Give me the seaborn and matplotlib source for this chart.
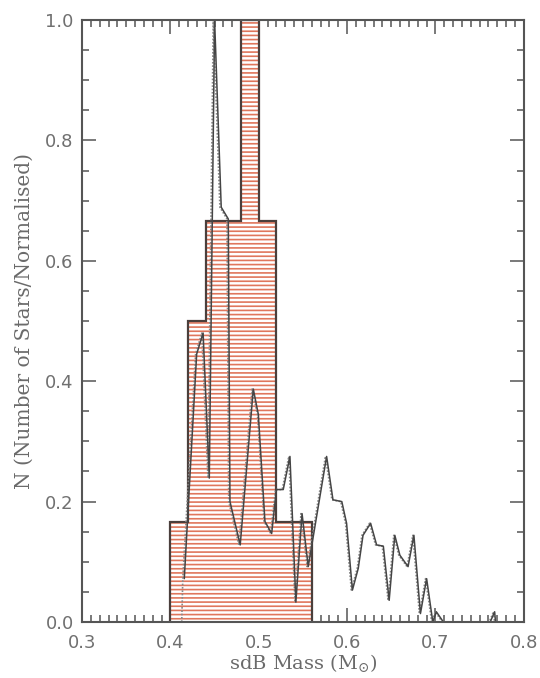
import seaborn as sns
import matplotlib.pyplot as plt
import numpy as np
from matplotlib.ticker import MultipleLocator

# normalised histogram of sdB masses (bin edges, relative counts)
bin_edges = [0.40, 0.42, 0.44, 0.46, 0.48, 0.50, 0.52, 0.54, 0.56]
bin_heights = [1/6, 0.5, 2/3, 2/3, 1.0, 2/3, 1/6, 1/6]

# solid curve (mass distribution, normalised)
curve_x = [0.4157, 0.4297, 0.437, 0.444, 0.450, 0.4575, 0.4655, 0.4674, 0.479,
           0.4938, 0.4995, 0.507, 0.5146, 0.520, 0.5277, 0.5353, 0.542, 0.549,
           0.556, 0.5768, 0.584, 0.594, 0.5994, 0.606, 0.6126, 0.618, 0.6266,
           0.6334, 0.641, 0.6476, 0.654, 0.6597, 0.669, 0.6756, 0.6830, 0.690,
           0.697, 0.701, 0.709, 0.762, 0.767, 0.768]
curve_y = [0.072, 0.445, 0.48, 0.239, 1.0, 0.689, 0.6695, 0.20, 0.128,
           0.387, 0.345, 0.167, 0.147, 0.22, 0.22, 0.275, 0.033, 0.18,
           0.092, 0.275, 0.203, 0.20, 0.164, 0.053, 0.089, 0.144, 0.164,
           0.128, 0.126, 0.036, 0.144, 0.111, 0.092, 0.144, 0.014, 0.072,
           0.0, 0.017, 0.0, 0.0, 0.017, 0.0]

# dotted companion curve
dot_x = [0.4128, 0.4140, 0.4285, 0.4355, 0.4425, 0.4485, 0.4560, 0.4640, 0.4660, 0.4775,
         0.4925, 0.4985, 0.5060, 0.5135, 0.5190, 0.5265, 0.5340, 0.5410, 0.5478,
         0.5548, 0.5755, 0.5828, 0.5928, 0.5982, 0.6048, 0.6114, 0.6168, 0.6254,
         0.6322, 0.6398, 0.6464, 0.6528, 0.6585, 0.6678, 0.6744, 0.6818, 0.6888,
         0.6958, 0.6998, 0.7078, 0.7608, 0.7658, 0.7668]
dot_y = [0.0, 0.072, 0.445, 0.48, 0.239, 1.0, 0.689, 0.6695, 0.20, 0.128,
         0.387, 0.345, 0.167, 0.147, 0.22, 0.22, 0.275, 0.033, 0.18,
         0.092, 0.275, 0.203, 0.20, 0.164, 0.053, 0.089, 0.144, 0.164,
         0.128, 0.126, 0.036, 0.144, 0.111, 0.092, 0.144, 0.014, 0.072,
         0.0, 0.017, 0.0, 0.0, 0.017, 0.0]

sns.set_style('ticks')
plt.rcParams['hatch.linewidth'] = 1.2
plt.rcParams['mathtext.fontset'] = 'dejavuserif'

fig = plt.figure(figsize=(5.4, 6.78), dpi=100)
ax = fig.add_axes([0.152, 0.0826, 0.818, 0.8879])

centres = [(a + b) / 2 for a, b in zip(bin_edges[:-1], bin_edges[1:])]

# hatched fill (red horizontal lines)
sns.histplot(x=centres, weights=bin_heights, bins=bin_edges, element='step',
             fill=True, facecolor='white', edgecolor='#e0765c', linewidth=0,
             hatch='----', alpha=1, ax=ax)
# dark step outline, closed down to the baseline at both ends
ax.stairs(bin_heights, bin_edges, baseline=0, color='#4a3f3c', linewidth=1.6)

sns.lineplot(x=dot_x, y=dot_y, sort=False, estimator=None, ax=ax,
             color='#8a8a8a', linewidth=1.2, linestyle=(0, (1, 1)))
sns.lineplot(x=curve_x, y=curve_y, sort=False, estimator=None, ax=ax,
             color='#454545', linewidth=1.1)

ax.set_xlim(0.3, 0.8)
ax.set_ylim(0.0, 1.0)
ax.xaxis.set_major_locator(MultipleLocator(0.1))
ax.xaxis.set_minor_locator(MultipleLocator(0.01))
ax.yaxis.set_major_locator(MultipleLocator(0.2))
ax.yaxis.set_minor_locator(MultipleLocator(0.05))
ax.xaxis.set_major_formatter(plt.FormatStrFormatter('%.1f'))
ax.yaxis.set_major_formatter(plt.FormatStrFormatter('%.1f'))

ax.tick_params(which='both', direction='in', top=True, right=True,
               color='#555555', width=1.1, labelcolor='#707070',
               labelsize=13)
ax.tick_params(axis='x', which='major', length=10, pad=9)
ax.tick_params(axis='y', which='major', length=10, pad=6)
ax.tick_params(which='minor', length=5)
for tl in ax.get_xticklabels() + ax.get_yticklabels():
    tl.set_family('DejaVu Sans')
for sp in ax.spines.values():
    sp.set_color('#555555')
    sp.set_linewidth(1.5)

ax.set_xlabel(r'sdB Mass (M$_{\odot}$)', family='DejaVu Serif', fontsize=14,
              color='#6a6a6a', labelpad=0)
ax.set_ylabel('N (Number of Stars/Normalised)', family='DejaVu Serif',
              fontsize=14.5, color='#6a6a6a', labelpad=8)

fig.savefig('out.png', dpi=100)
